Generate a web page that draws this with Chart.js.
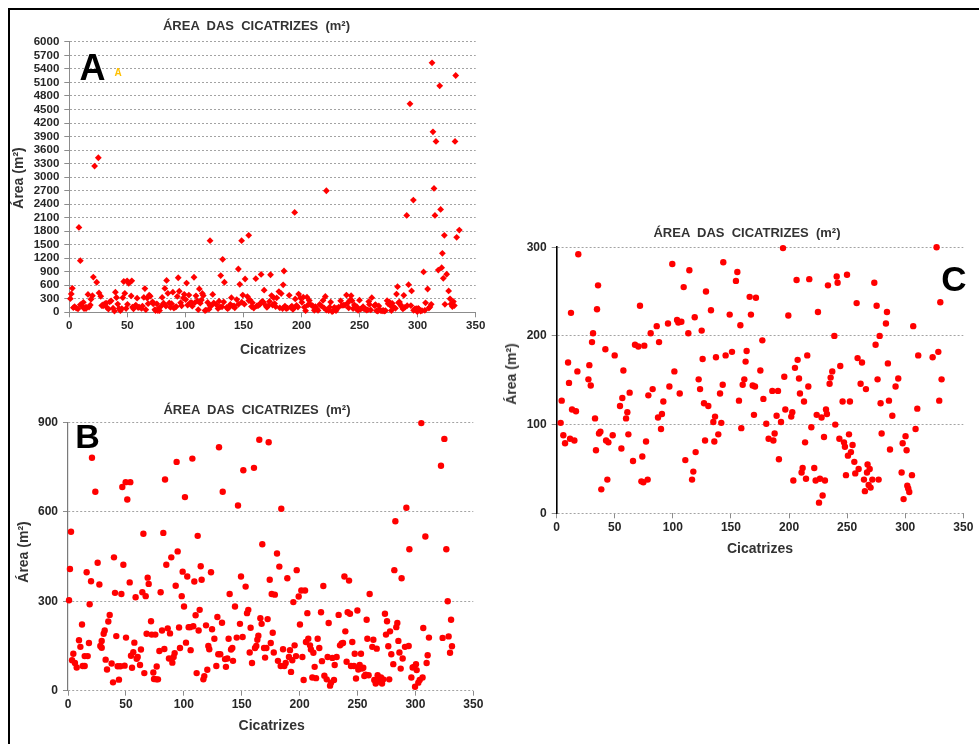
<!DOCTYPE html>
<html><head><meta charset="utf-8">
<script src="https://cdn.jsdelivr.net/npm/chart.js@4.4.1/dist/chart.umd.min.js"></script>
<style>
html,body{margin:0;padding:0;background:#fff;width:979px;height:744px;overflow:hidden;position:relative;font-family:"Liberation Sans",Arial,sans-serif;}
.frame{position:absolute;left:8px;top:8px;width:1000px;height:800px;border-top:2px solid #000;border-left:2px solid #000;}
canvas{position:absolute;}
.t{position:absolute;transform:translate(-50%,-50%);white-space:pre;line-height:1;font-weight:bold;color:#333;}
.r{transform:translate(-50%,-50%) rotate(-90deg);}
</style></head><body>
<div class="frame"></div>
<canvas id="chartA" width="490" height="330" style="left:0;top:30px"></canvas>
<canvas id="chartB" width="490" height="320" style="left:0;top:410px"></canvas>
<canvas id="chartC" width="479" height="310" style="left:500px;top:235px"></canvas>

<div class="t" style="left:256.5px;top:24.5px;font-size:13px">ÁREA  DAS  CICATRIZES  (m²)</div>
<div class="t r" style="left:17.5px;top:178px;font-size:14px">Área (m²)</div>
<div class="t" style="left:273px;top:348.5px;font-size:14px">Cicatrizes</div>
<div class="t" style="left:92.5px;top:68px;font-size:36px;color:#000">A</div>
<div class="t" style="left:118px;top:73px;font-size:10px;color:#FFC000">A</div>

<div class="t" style="left:257px;top:408.7px;font-size:13px">ÁREA  DAS  CICATRIZES  (m²)</div>
<div class="t r" style="left:23px;top:552px;font-size:14px">Área (m²)</div>
<div class="t" style="left:271.7px;top:725.3px;font-size:14px">Cicatrizes</div>
<div class="t" style="left:87.5px;top:436px;font-size:34px;color:#000">B</div>

<div class="t" style="left:747px;top:232px;font-size:13px">ÁREA  DAS  CICATRIZES  (m²)</div>
<div class="t r" style="left:511.3px;top:374px;font-size:14px">Área (m²)</div>
<div class="t" style="left:760px;top:548.3px;font-size:14px">Cicatrizes</div>
<div class="t" style="left:954px;top:277.5px;font-size:35px;color:#000">C</div>

<script>
// x tick labels (scar index)
const xTicks = [0,50,100,150,200,250,300,350];
const yTicksA = [0,300,600,900,1200,1500,1800,2100,2400,2700,3000,3300,3600,3900,4200,4500,4800,5100,5400,5700,6000];
const yTicksB = [0,300,600,900];
const yTicksC = [0,100,200,300];

// scars with area <= 900 m² : [index, area]
const scarsLow = [
[0.9,303],[1.7,408],[2.6,533],[3.5,102],[4.6,124],[6,93],[7.5,78],[9.5,169],[10.7,147],[12.1,222],
[12.7,83],[14.4,83],[14.4,116],[16.1,397],[17,116],[18.1,160],[18.7,290],[19.9,367],[20.7,781],[23.6,667],
[25.6,429],[27.1,356],[27.9,150],[29.1,144],[29.1,167],[30.8,191],[31.7,202],[32.5,104],[33.7,71],[34.8,232],
[36,254],[37.7,91],[38.9,28],[39.7,447],[40.6,328],[41.7,183],[42.9,82],[44,37],[45.2,82],[46.1,324],
[46.9,683],[47.8,422],[48.9,84],[49.8,699],[50.1,178],[51.2,641],[53.3,363],[53.8,699],[54.4,117],[55.3,77],
[56.4,129],[57.3,161],[58.4,313],[59.3,107],[60.2,113],[62.2,86],[63,138],[64.2,330],[65.1,526],[65.9,59],
[67.1,317],[67.9,191],[68.8,379],[69.7,358],[71.7,233],[72.3,188],[73.7,61],[74.3,39],[75.4,188],[76.3,38],
[76.6,81],[77.7,38],[78.9,133],[80,330],[81.2,202],[82.3,529],[83.2,140],[83.8,708],[84.9,422],[86.1,209],
[87.2,108],[88.1,192],[89.2,447],[90.1,94],[91.2,113],[92.1,126],[93,352],[93.8,767],[94.7,467],[95.9,212],
[96.7,143],[98.2,317],[99,399],[100.2,282],[101,649],[101.9,161],[103,383],[104.2,213],[105.4,213],[105.9,136],
[107.4,778],[108.2,216],[109.1,366],[110.2,253],[111.1,59],[112,519],[112.8,202],[113.7,271],[114.6,417],[115.4,372],
[116.9,38],[117.7,49],[119.2,219],[120.3,70],[121.2,150],[122,139],[123.5,397],[124.4,206],[126.4,174],[128.1,83],
[129,247],[129.8,122],[130.4,816],[131.5,122],[133,228],[133.6,667],[135.6,106],[136.4,80],[137.6,108],[138.7,174],
[139.6,324],[140.8,138],[141.9,143],[142.5,100],[144.2,282],[145.7,178],[146.8,621],[148.5,224],[149.4,383],[150.8,180],
[151.4,739],[153.4,349],[154.6,260],[155.7,271],[156.9,128],[157.7,211],[158.9,93],[160.6,747],[161.5,143],[162.6,150],
[163.5,171],[164.4,184],[165.2,841],[166.1,243],[167.2,224],[167.8,491],[169.3,143],[170.2,111],[171.3,143],[172.4,240],
[173.3,833],[174.2,372],[175.1,160],[175.9,324],[176.8,194],[177.7,128],[178.6,322],[180.5,460],[181.3,100],[182.5,416],
[183.7,83],[184.2,610],[185.7,139],[186.8,83],[188,93],[189.4,377],[190.8,113],[191.7,136],[192.6,63],[193.7,102],
[194.6,297],[195.7,152],[196.9,116],[197.5,404],[199.2,316],[200.3,222],[201.5,336],[202.4,113],[203.5,36],[204.7,336],
[205.5,163],[206.7,260],[207.5,174],[209,152],[209.8,138],[211,44],[211.9,127],[213,80],[214.2,42],[215.6,174],
[217,143],[218.5,263],[219.3,99],[220.5,351],[221.4,50],[223.4,38],[224.2,113],[225.1,227],[226.3,17],[227.1,27],
[228.3,110],[229.7,36],[230.3,86],[232,113],[233.7,254],[234.9,152],[236.3,158],[237.5,160],[238.7,383],[239.5,199],
[240.6,97],[241.5,263],[242.7,369],[243.5,258],[244.4,83],[245.5,163],[246.9,83],[247.6,124],[248.7,41],[249.9,269],
[250.7,71],[251.9,86],[253,124],[253.9,74],[255,77],[255.9,49],[257,54],[257.9,238],[258.5,174],[259.6,52],
[260.5,324],[262.8,147],[263.7,171],[264.5,36],[265.7,24],[266.6,141],[267.4,52],[268.3,38],[269.4,30],[270.3,44],
[271.2,24],[272.3,38],[273.7,258],[274.6,188],[275.5,233],[276.6,149],[277.4,38],[278.1,199],[279.2,122],[280.9,89],
[281.8,404],[282.7,568],[283.5,213],[284.4,227],[285.3,167],[286.2,128],[287.3,74],[288.1,377],[289,108],[291,147],
[292.2,613],[294.2,150],[294.8,474],[296.5,44],[297.6,78],[298.8,80],[299.7,13],[300.5,89],[301.1,69],[302.5,27],
[303.7,36],[305.1,897],[306.2,44],[306.8,210],[308.6,517],[309.7,93],[310.6,119],[311.7,178],[322.1,754],[323.5,177],
[325,844],[326.7,474],[327.9,300],[328.7,182],[329.9,127],[330.8,238],[331.6,149]
];

// scars with area > 900 m² (only visible on panel A)
const scarsHigh = [
[8.3,1884],[9.5,1145],[21.8,3244],[25,3429],[121.2,1589],[132.1,1175],[145.6,961],[148.4,1589],[154.5,1707],[184.9,916],
[194.1,2217],[221.4,2697],[290.6,2150],[293.4,4626],[296.3,2490],[312.4,5535],[313.2,4005],[314.1,2749],[314.9,2150],[315.8,3791],
[317.8,938],[319,5025],[319.8,2283],[320.7,990],[321.3,1308],[323,1707],[332.2,3791],[332.8,5254],[333.6,1663],[335.9,1825]
];

// scars with area <= 300 m² (panel C)
const scarsSmall = [
[3.4,102],[4.3,127],[5.7,88],[7.2,79],[9.8,170],[10.6,147],[11.5,84],[12.3,226],[13.2,117],[15.2,82],
[16.6,115],[17.8,160],[18.6,292],[27.3,151],[28.1,167],[29.3,144],[30.4,193],[31.3,203],[33,107],[33.8,71],
[34.7,230],[35.6,257],[36.4,90],[37.6,92],[38.4,27],[41.9,185],[42.5,82],[43.6,38],[44.5,80],[48.2,88],
[49.9,178],[54.5,121],[55.7,73],[56.5,130],[57.4,161],[59.7,107],[60.8,114],[61.7,89],[62.8,136],[65.7,59],
[67.4,190],[70.3,188],[71.7,234],[72.9,36],[73.7,64],[74.6,35],[75.4,189],[76.9,81],[78.3,38],[78.9,133],
[80.9,203],[82.6,140],[86.1,211],[87.2,108],[88.1,193],[89.8,95],[90.6,112],[91.8,126],[95.8,214],[97,143],
[99.5,281],[101.3,160],[103.6,218],[104.7,215],[105.9,135],[107.3,216],[109.3,255],[110.7,60],[113.3,203],[114.2,274],
[116.5,38],[117.6,47],[118.8,221],[119.6,69],[122.2,151],[123.4,140],[124.8,206],[125.6,174],[126.8,124],[127.7,82],
[128.5,250],[130.5,121],[132.8,229],[134.8,103],[136.3,109],[135.7,81],[137.1,176],[139.1,89],[140.6,135],[141.7,102],
[142.9,145],[143.4,283],[145.4,178],[148.9,224],[150.9,182],[154.3,262],[155.5,272],[156.9,127],[158.1,212],[158.9,96],
[160.1,145],[161.5,151],[162.6,171],[163.5,183],[166.1,244],[167.2,224],[168.7,144],[169.8,111],[170.7,143],[171.5,243],
[175.3,161],[177,195],[177.9,129],[180.4,101],[182.4,84],[185.6,138],[186.5,82],[187.6,90],[189.3,110],[190.5,138],
[191.3,61],[193.1,103],[194.8,299],[195.9,154],[196.8,117],[199.4,223],[201.9,109],[202.8,114],[203.7,37],[205.1,164],
[206.5,263],[207.4,173],[208.6,152],[209.4,135],[210.8,46],[211.7,51],[212.9,126],[213.8,80],[214.6,39],[215.7,178],
[216.6,143],[217.4,264],[219.2,97],[221.7,51],[222.9,37],[223.8,111],[224.9,227],[225.8,12],[226.6,39],[228,108],
[228.9,20],[230.1,86],[230.9,37],[231.8,117],[232.6,112],[233.5,257],[234.9,146],[235.8,153],[237.2,160],[239,200],
[239.8,100],[241,267],[241.8,260],[243.3,84],[244.1,166],[246.1,126],[247.3,80],[248.1,75],[249,43],[249.9,269],
[250.7,65],[251.6,89],[252.4,126],[253.3,69],[254.7,77],[256.2,58],[257,45],[258.2,237],[259,175],[259.9,50],
[261.6,146],[262.8,170],[264.5,38],[265.3,25],[266.2,140],[267.1,46],[267.6,55],[268.5,32],[269.4,50],[270.2,29],
[271.7,38],[273.4,260],[274.5,190],[275.4,234],[276.2,151],[277.1,38],[278,200],[278.8,124],[279.7,90],[283.4,214],
[284.3,227],[285.1,169],[286,127],[286.9,72],[288.9,110],[291.7,143],[294,152],[296.9,46],[297.8,79],[298.6,16],
[300.3,87],[301.2,71],[301.8,31],[302.6,28],[303.5,24],[305.8,43],[306.9,211],[308.9,95],[310.4,118],[311.2,178],
[323.6,176],[327,300],[328.5,182],[329.3,127],[330.2,238],[331.3,151]
];

function build(id, pts, cfg) {
  const tickFont = {family: '"Liberation Sans", Arial, sans-serif', weight: 'bold', size: cfg.fs};
  const plain = v => String(v);
  return new Chart(document.getElementById(id), {
    type: 'scatter',
    data: {datasets: [{
      data: pts.map(p => ({x: p[0], y: p[1]})),
      pointStyle: cfg.style, pointRadius: cfg.r, pointHoverRadius: cfg.r,
      backgroundColor: '#ff0000', borderColor: '#ff0000', borderWidth: 0, clip: false
    }]},
    options: {
      responsive: false, animation: false, events: [],
      layout: {padding: cfg.pad},
      plugins: {legend: {display: false}, tooltip: {enabled: false}, title: {display: false}},
      scales: {
        x: {
          type: 'linear', min: 0, max: 350,
          afterBuildTicks: s => { s.ticks = xTicks.map(v => ({value: v})); },
          afterFit: s => { s.height = cfg.xh; },
          grid: {display: true, drawOnChartArea: false, drawTicks: true, tickLength: 5,
                 color: '#8c8c8c', tickColor: '#8c8c8c', tickWidth: 1, tickBorderDash: []},
          border: {display: cfg.xBorder, color: '#8c8c8c', width: 1},
          ticks: {font: tickFont, color: '#262626', padding: 2, maxRotation: 0, autoSkip: false, callback: plain}
        },
        y: {
          type: 'linear', min: 0, max: cfg.ymax,
          afterBuildTicks: s => { s.ticks = cfg.yticks.map(v => ({value: v})); },
          afterFit: s => { s.width = cfg.yw; },
          grid: {display: true, color: '#a3a3a3', lineWidth: 1, drawTicks: true, tickLength: 5,
                 tickColor: '#8c8c8c', tickWidth: 1, tickBorderDash: []},
          border: {display: true, color: cfg.yColor, width: cfg.yBW, dash: [2, 2]},
          ticks: {font: tickFont, color: '#262626', padding: 5, autoSkip: false, callback: plain}
        }
      }
    }
  });
}

build('chartA', scarsLow.concat(scarsHigh), {
  style: 'rectRot', r: 3.4, fs: 11.5, ymax: 6000, yticks: yTicksA,
  pad: {left: 0, top: 11.7, right: 14.3, bottom: 0}, yw: 69.3, xh: 47.7,
  xBorder: true, yColor: '#8c8c8c', yBW: 1
});
build('chartB', scarsLow, {
  style: 'circle', r: 3.2, fs: 12, ymax: 900, yticks: yTicksB,
  pad: {left: 0, top: 10.7, right: 16.7, bottom: 0}, yw: 68, xh: 39.3,
  xBorder: false, yColor: '#7a7a7a', yBW: 1.2
});
build('chartC', scarsSmall, {
  style: 'circle', r: 3.2, fs: 12, ymax: 300, yticks: yTicksC,
  pad: {left: 0, top: 9, right: 15.7, bottom: 0}, yw: 56.7, xh: 31.7,
  xBorder: false, yColor: '#000000', yBW: 1.6
});
</script>
</body></html>
